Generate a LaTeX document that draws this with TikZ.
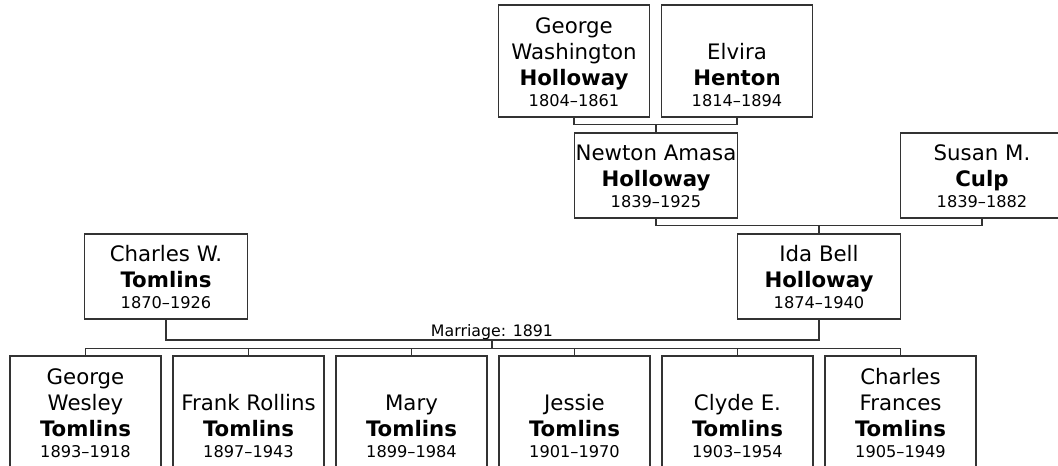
\documentclass[tikz,border=0pt]{standalone}
\usepackage{fontspec}
\setmainfont{DejaVu Sans}
\newcommand{\who}[3]{#1\\\textbf{#2}\\[-5pt]{\fontsize{16.2}{26}\selectfont #3}}
\tikzset{
  person/.style 2 args={draw=black!80, line width=1.3pt, inner sep=0pt,
    minimum width=#1, minimum height=#2,
    execute at begin node={\begin{minipage}[c][\dimexpr#2-21pt\relax][b]{#1}\centering\fontsize{21.3}{26}\selectfont},
    execute at end node={\end{minipage}}},
  tallbox/.style={person={151pt}{112pt}},
  shortbox/.style={person={163pt}{85pt}},
  link/.style={draw=black!80, line width=1.3pt},
}
\begin{document}
\begin{tikzpicture}[x=1pt,y=-1pt]
  \useasboundingbox (0,0) rectangle (1058,466);
  % grandparents
  \node[tallbox] (gw) at (574,61) {\who{George\\Washington}{Holloway}{1804--1861}};
  \node[tallbox] (elvira) at (737,61) {\who{Elvira}{Henton}{1814--1894}};
  % parents
  \node[shortbox] (newton) at (656,175.5) {\who{Newton Amasa}{Holloway}{1839--1925}};
  \node[shortbox] (susan) at (982,175.5) {\who{Susan M.}{Culp}{1839--1882}};
  \node[shortbox] (charles) at (166,276.5) {\who{Charles W.}{Tomlins}{1870--1926}};
  \node[shortbox] (ida) at (819,276.5) {\who{Ida Bell}{Holloway}{1874--1940}};
  % children
  \node[tallbox] (c1) at (85.5,412) {\who{George\\Wesley}{Tomlins}{1893--1918}};
  \node[tallbox] (c2) at (248.5,412) {\who{Frank Rollins}{Tomlins}{1897--1943}};
  \node[tallbox] (c3) at (411.5,412) {\who{Mary}{Tomlins}{1899--1984}};
  \node[tallbox] (c4) at (574.5,412) {\who{Jessie}{Tomlins}{1901--1970}};
  \node[tallbox] (c5) at (737.5,412) {\who{Clyde E.}{Tomlins}{1903--1954}};
  \node[tallbox] (c6) at (900.5,412) {\who{Charles\\Frances}{Tomlins}{1905--1949}};
  % junctions
  \coordinate (m1) at (656,124.5);
  \coordinate (m2) at (819,225.5);
  \coordinate (m3) at (492,340);
  \coordinate (m4) at (492,348.5);
  \draw[link] (gw.south) |- (m1) -| (elvira.south);
  \draw[link] (m1) -- (newton.north);
  \draw[link] (newton.south) |- (m2) -| (susan.south);
  \draw[link] (m2) -- (ida.north);
  \draw[link] (charles.south) |- (m3) -| (ida.south);
  \node[anchor=base, inner sep=0pt, font=\fontsize{15.8}{18}\selectfont] (marriage) at (492,336) {Marriage: 1891};
  \draw[link] (m3) -- (m4);
  \draw[link] (c1.north) |- (m4) -| (c6.north);
  \foreach \i in {2,...,5}
    \draw[link] (c\i.north) -- (c\i.north |- m4);
\end{tikzpicture}
\end{document}
